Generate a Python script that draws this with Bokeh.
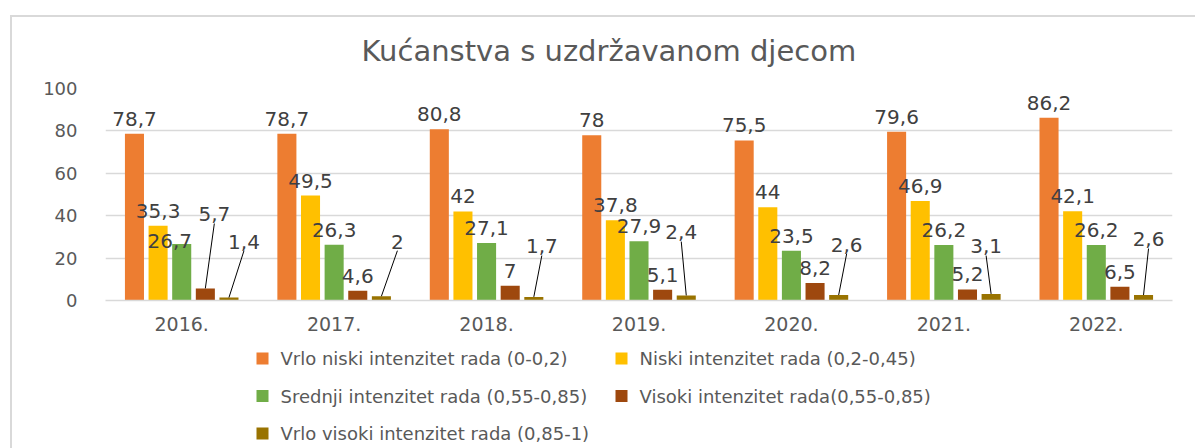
from bokeh.plotting import figure
from bokeh.layouts import column
from bokeh.models import Range1d, FixedTicker, ColumnDataSource
from bokeh.embed import file_html
from bokeh.resources import INLINE
from bokeh.core.properties import value

# ---------------- data ----------------
years = ["2016.", "2017.", "2018.", "2019.", "2020.", "2021.", "2022."]
series_names = [
    "Vrlo niski intenzitet rada (0-0,2)",
    "Niski intenzitet rada (0,2-0,45)",
    "Srednji intenzitet rada (0,55-0,85)",
    "Visoki intenzitet rada(0,55-0,85)",
    "Vrlo visoki intenzitet rada (0,85-1)",
]
vrlo_niski = [78.7, 78.7, 80.8, 78, 75.5, 79.6, 86.2]
niski = [35.3, 49.5, 42, 37.8, 44, 46.9, 42.1]
srednji = [26.7, 26.3, 27.1, 27.9, 23.5, 26.2, 26.2]
visoki = [5.7, 4.6, 7, 5.1, 8.2, 5.2, 6.5]
vrlo_visoki = [1.4, 2, 1.7, 2.4, 2.6, 3.1, 2.6]
y_ticks = [0, 20, 40, 60, 80, 100]
title_text = "Kućanstva s uzdržavanom djecom"

# ---------------- style / layout ----------------
colors = ["#ED7D31", "#FFC000", "#70AD47", "#9E480E", "#997300"]
offsets = [-0.31, -0.155, 0.0, 0.155, 0.31]
bar_w = 0.125
px_per_cat = 152.4  # frame width / number of categories
FONT = "DejaVu Sans"

# manual data-label placement (None = default above the bar)
# (x shift in px, label centre y in data units, leader line?)
label_place = [
    [None] * 7,
    [None] * 7,
    [(-12, 28.3, False)] + [None] * 6,
    [(9, 40.6, True)] + [None] * 6,
    [(15, 27.8, True), (16, 27.8, True), (8, 25.5, True), (-5, 32.1, True),
     (8, 26.4, True), (-5, 25.5, True), (5, 28.8, True)],
]

all_series = [vrlo_niski, niski, srednji, visoki, vrlo_visoki]

W = 1195
FRAME_L, FRAME_R = 105, 1172
p = figure(width=W, height=348,
           x_range=Range1d(-0.5, 6.5), y_range=Range1d(0, 100),
           output_backend="svg", toolbar_location=None,
           min_border_left=FRAME_L, min_border_right=W - FRAME_R,
           min_border_top=88, min_border_bottom=48)

p.border_fill_color = None
p.background_fill_color = "white"
p.outline_line_color = None

p.title.text = title_text
p.title.align = "left"
p.title.text_font = FONT
p.title.text_font_size = "29px"
p.title.text_font_style = "normal"
p.title.text_color = "#595959"
p.title.standoff = 41
p.title.offset = 256

for s, vals in enumerate(all_series):
    xs = [i + offsets[s] for i in range(len(years))]
    src = ColumnDataSource(dict(x=xs, top=vals))
    p.vbar(x="x", top="top", width=bar_w, source=src,
           fill_color=colors[s], line_color=None)

    lx, ly, lyo, lxo, txt = [], [], [], [], []
    sx0, sy0, sx1, sy1 = [], [], [], []
    for i, v in enumerate(vals):
        txt.append(("%g" % v).replace(".", ","))
        lx.append(xs[i])
        pl = label_place[s][i]
        if pl is None:
            ly.append(v)
            lyo.append(-15)
            lxo.append(0)
        else:
            dx, yy, lead = pl
            ly.append(yy)
            lyo.append(0)
            lxo.append(dx)
            if lead:
                sx0.append(xs[i])
                sy0.append(v)
                sx1.append(xs[i] + dx / px_per_cat)
                sy1.append(yy - 4.3)
    if sx0:
        p.segment(x0=sx0, y0=sy0, x1=sx1, y1=sy1, line_color="#000000", line_width=1)
    p.text(x=lx, y=ly, text=txt, x_offset=lxo, y_offset=lyo,
           text_align="center", text_baseline="middle",
           text_font=value(FONT), text_font_size="20px",
           text_color="#404040")

# axes
p.yaxis.ticker = FixedTicker(ticks=y_ticks)
p.yaxis.axis_line_color = None
p.yaxis.major_tick_line_color = None
p.yaxis.minor_tick_line_color = None
p.yaxis.major_label_standoff = 22
p.yaxis.major_label_text_font = FONT
p.yaxis.major_label_text_font_size = "18px"
p.yaxis.major_label_text_color = "#595959"

p.xaxis.ticker = FixedTicker(ticks=list(range(len(years))))
p.xaxis.major_label_overrides = {i: y for i, y in enumerate(years)}
p.xaxis.axis_line_color = "#d9d9d9"
p.xaxis.axis_line_width = 1.5
p.xaxis.major_tick_line_color = None
p.xaxis.minor_tick_line_color = None
p.xaxis.major_label_standoff = 10
p.xaxis.major_label_text_font = FONT
p.xaxis.major_label_text_font_size = "19px"
p.xaxis.major_label_text_color = "#595959"

p.xgrid.grid_line_color = None
p.ygrid.grid_line_color = "#d9d9d9"
p.ygrid.grid_line_width = 1.5

# ---------------- legend (drawn as its own small figure) ----------------
# the column layout aligns this figure's frame with the chart's frame,
# so its x range spans the same pixel interval
LH = 100
lg = figure(width=W, height=LH, x_range=Range1d(FRAME_L, FRAME_R), y_range=Range1d(LH, 0),
            output_backend="svg", toolbar_location=None,
            min_border_left=FRAME_L, min_border_right=W - FRAME_R,
            min_border_top=0, min_border_bottom=0,
            x_axis_location=None, y_axis_location=None)
lg.grid.grid_line_color = None
lg.outline_line_color = None
lg.border_fill_color = None
lg.background_fill_color = None

col_x = [262, 621]
row_y0, row_dy = 10, 37.5
gx = [col_x[i % 2] for i in range(len(series_names))]
gy = [row_y0 + row_dy * (i // 2) for i in range(len(series_names))]
lg.rect(x=gx, y=gy, width=12, height=12, fill_color=colors, line_color=None)
lg.text(x=[g + 18 for g in gx], y=gy, text=series_names,
        text_align="left", text_baseline="middle",
        text_font=value(FONT), text_font_size="18px", text_color="#595959")

layout = column(p, lg, spacing=0)
layout.styles = {
    "background-color": "white",
    "background-image": "linear-gradient(#d9d9d9,#d9d9d9), linear-gradient(#d9d9d9,#d9d9d9)",
    "background-size": "100% 2px, 2px 100%",
    "background-position": "10px 15px, 10px 15px",
    "background-repeat": "no-repeat",
}

open("out.html", "w").write(file_html(layout, INLINE))
